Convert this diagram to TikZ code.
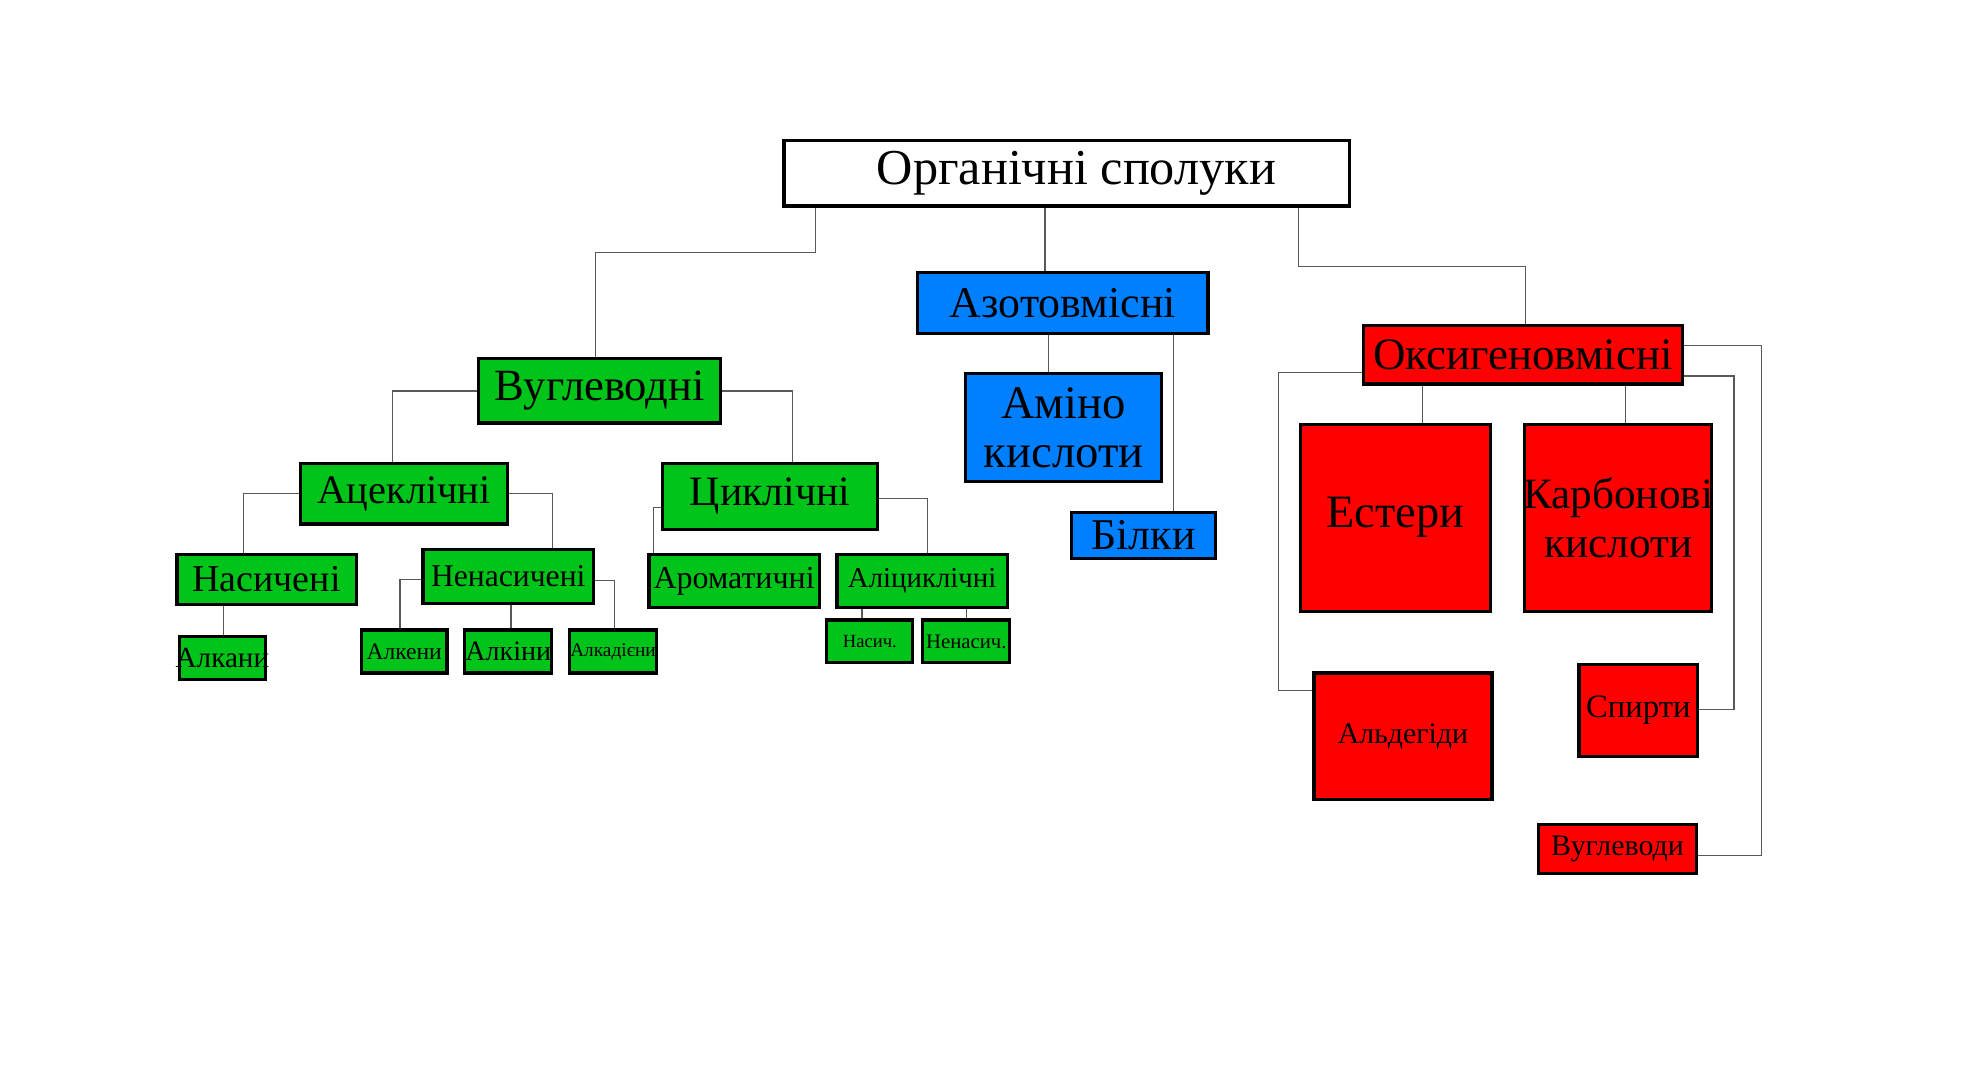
\documentclass[tikz,border=0pt]{standalone}
\usepackage{fontspec}
\setmainfont{Liberation Serif}
\definecolor{grn}{RGB}{0,196,26}
\definecolor{blu}{RGB}{0,128,255}
\definecolor{rd}{RGB}{255,0,0}
\def\unitpx{0.01262cm}
\newcommand\fs[1]{\fontsize{#1}{#1}\selectfont}
\tikzset{
  box/.style={draw=black, line width=0.9pt, anchor=north west, inner sep=0pt, align=center},
  sz/.style 2 args={minimum width=#1*\unitpx, minimum height=#2*\unitpx},
  link/.style={draw=black!65, line width=0.4pt}
}

\begin{document}
\begin{tikzpicture}[x=0.01262cm, y=-0.01262cm]
            \useasboundingbox (0,0) rectangle (1569,856);
            % top
            \node[box, fill=white, sz={448}{52}] (root) at (620,110) {\fs{14.3}\hspace*{5.5pt}\raisebox{1.8pt}{Органічні сполуки}};
            % nitrogen
            \node[box, fill=blu, sz={230}{48}] (nitro) at (726,215) {\fs{12.5}Азотовмісні};
            \node[box, fill=blu, sz={155}{85}] (amino) at (764,295) {\fs{13.3}Аміно\\[2pt]\fs{13.3}кислоти};
            \node[box, fill=blu, sz={114}{36}] (prot) at (848,405) {\fs{12.5}Білки};
            % hydrocarbons
            \node[box, fill=grn, sz={192}{51}] (hyd) at (378,283) {\fs{12.7}Вуглеводні};
            \node[box, fill=grn, sz={164}{48}] (acyc) at (237,366) {\fs{11.5}Ацеклічні};
            \node[box, fill=grn, sz={170}{52}] (cyc) at (524,366) {\fs{11.9}Циклічні};
            \node[box, fill=grn, sz={142}{40}] (sat) at (139,438) {\fs{10.8}Насичені};
            \node[box, fill=grn, sz={135}{43}] (unsat) at (334,434) {\fs{9}Ненасичені};
            \node[box, fill=grn, sz={68}{34}, inner xsep=-1.5pt] (alkane) at (141,503) {\fs{8.3}Алкани};
            \node[box, fill=grn, sz={68}{34}] (alkene) at (285,498) {\fs{6.7}Алкени};
            \node[box, fill=grn, sz={69}{34}] (alkyne) at (367,498) {\fs{8}Алкіни};
            \node[box, fill=grn, sz={69}{34}] (diene) at (450,498) {\fs{5.5}Алкадієни};
            \node[box, fill=grn, sz={135}{42}] (arom) at (513,438) {\fs{9.1}Ароматичні};
            \node[box, fill=grn, sz={135}{42}] (alicyc) at (662,438) {\fs{8.2}Аліциклічні};
            \node[box, fill=grn, sz={68}{34}] (csat) at (654,490) {\fs{5.3}Насич.};
            \node[box, fill=grn, sz={69}{34}] (cunsat) at (730,490) {\fs{5.9}Ненасич.};
            % oxygen
            \node[box, fill=rd, sz={253}{46}] (oxy) at (1079,257) {\fs{12.8}Оксигеновмісні};
            \node[box, fill=rd, sz={151}{148}] (ester) at (1029,335) {\fs{13.2}Естери};
            \node[box, fill=rd, sz={148}{148}, inner xsep=-1pt] (carb) at (1207,335) {\fs{12.3}Карбонові\\[2pt]\fs{12.3}кислоти};
            \node[box, fill=rd, sz={141}{100}] (ald) at (1040,532) {\fs{8.5}Альдегіди};
            \node[box, fill=rd, sz={94}{73}] (alc) at (1250,525) {\fs{9.3}Спирти};
            \node[box, fill=rd, sz={125}{39}] (carbo) at (1218,652) {\fs{8.5}Вуглеводи};
            % links
            \draw[link] (646,0 |- root.south) |- (472,200) -- (472,0 |- hyd.north);
            \draw[link] (828,0 |- root.south) -- (828,0 |- nitro.north);
            \draw[link] (1029,0 |- root.south) |- (1209,211) -- (1209,0 |- oxy.north);
            \draw[link] (831,0 |- nitro.south) -- (831,0 |- amino.north);
            \draw[link] (930,0 |- nitro.south) -- (930,0 |- prot.north);
            \draw[link] (hyd.west) -| (311,0 |- acyc.north);
            \draw[link] (hyd.east) -| (628,0 |- cyc.north);
            \draw[link] (acyc.west) -| (193,0 |- sat.north);
            \draw[link] (acyc.east) -| (438,0 |- unsat.north);
            \draw[link] (cyc.west |- 0,402) -| (518,0 |- arom.north);
            \draw[link] (cyc.east |- 0,395) -| (735,0 |- alicyc.north);
            \draw[link] (177,0 |- sat.south) -- (177,0 |- alkane.north);
            \draw[link] (unsat.west |- 0,459) -| (317,0 |- alkene.north);
            \draw[link] (405,0 |- unsat.south) -- (405,0 |- alkyne.north);
            \draw[link] (unsat.east |- 0,460) -| (487,0 |- diene.north);
            \draw[link] (683,0 |- alicyc.south) -- (683,0 |- csat.north);
            \draw[link] (766,0 |- alicyc.south) -- (766,0 |- cunsat.north);
            \draw[link] (1127,0 |- oxy.south) -- (1127,0 |- ester.north);
            \draw[link] (1288,0 |- oxy.south) -- (1288,0 |- carb.north);
            \draw[link] (oxy.west |- 0,295) -- (1013,295) |- (ald.west |- 0,547);
            \draw[link] (oxy.east |- 0,298) -- (1374,298) |- (alc.east |- 0,562);
            \draw[link] (oxy.east |- 0,274) -- (1396,274) |- (carbo.east |- 0,678);
        \end{tikzpicture}
\end{document}
